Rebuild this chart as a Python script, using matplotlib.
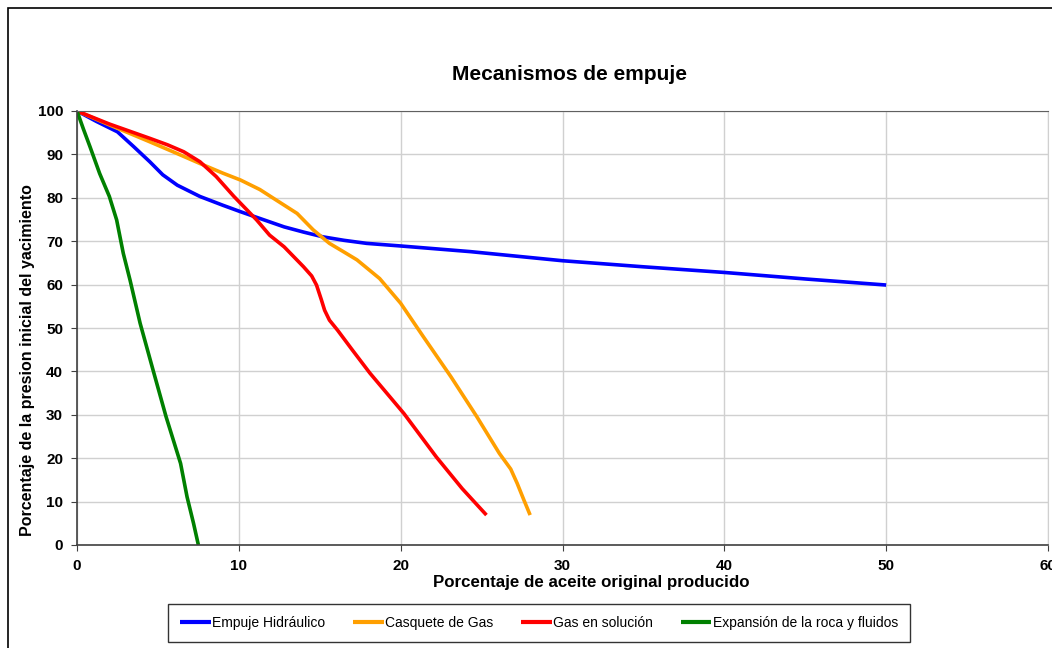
#Curvas de declinacion de presion por mecanismo de empuje.
import matplotlib.pyplot as plt
from matplotlib.patches import Rectangle

plt.rcParams['font.family'] = ['Liberation Sans', 'DejaVu Sans']

#Datos (porcentaje producido, porcentaje de presion).
hidraulico_x = [0, 1.2, 2.5, 3.5, 4.5, 5.3, 6.2, 7.6, 9.0, 10.1, 11.1, 12.8, 14.0, 15.2, 16.5, 17.9, 20.0, 24.3, 30.0, 35.0, 40.0, 45.0, 50.0]
hidraulico_y = [100, 97.6, 95.2, 91.8, 88.3, 85.3, 82.9, 80.3, 78.3, 76.8, 75.5, 73.3, 72.1, 71.0, 70.2, 69.5, 68.9, 67.6, 65.5, 64.1, 62.8, 61.3, 59.9]

casquete_x = [0, 2.0, 4.5, 6.0, 7.6, 9.0, 10.1, 11.3, 12.3, 13.6, 14.6, 15.6, 16.5, 17.3, 18.7, 20.0, 21.4, 23.1, 24.7, 26.1, 26.8, 27.2, 27.6, 28.0]
casquete_y = [100, 96.8, 92.9, 90.5, 87.9, 85.7, 84.1, 81.9, 79.5, 76.4, 72.6, 69.5, 67.5, 65.7, 61.4, 55.7, 48.0, 38.8, 29.6, 21.1, 17.5, 14.2, 10.5, 6.9]

solucion_x = [0, 2.0, 4.5, 5.6, 6.6, 7.6, 8.6, 9.7, 11.1, 11.9, 12.8, 14.0, 14.5, 14.8, 15.1, 15.3, 15.6, 16.1, 17.0, 18.1, 20.2, 22.2, 23.8, 25.3]
solucion_y = [100, 97.0, 93.7, 92.2, 90.6, 88.3, 84.9, 80.3, 74.9, 71.4, 68.7, 64.1, 62.0, 59.9, 56.5, 54.1, 51.8, 49.5, 45.0, 39.6, 30.3, 20.3, 13.0, 6.9]

expansion_x = [0, 0.4, 0.8, 1.4, 2.0, 2.45, 2.86, 3.28, 3.9, 4.7, 5.5, 6.4, 6.8, 7.2, 7.5]
expansion_y = [100, 95.8, 91.8, 85.6, 80.3, 74.9, 67.2, 61.0, 51.1, 40.3, 29.6, 18.8, 11.1, 5.0, 0]

etiquetas = ['Empuje Hidráulico', 'Casquete de Gas', 'Gas en solución', 'Expansión de la roca y fluidos']
colores = ['#0000FF', '#FF9F00', '#FF0000', '#008000']

fig = plt.figure(figsize=(10.52, 6.48), dpi=100)
ax = fig.add_axes([77/1052, 1 - 545/648, (1048-77)/1052, (545-111)/648])

#Marco exterior del grafico.
fig.patches.append(Rectangle((8/1052, -0.1), 1.2, 1 - 8/648 + 0.1, transform=fig.transFigure,
                             fill=False, edgecolor='black', linewidth=1.2))

series = [(hidraulico_x, hidraulico_y), (casquete_x, casquete_y),
          (solucion_x, solucion_y), (expansion_x, expansion_y)]
for (xs, ys), etiqueta, color in zip(series, etiquetas, colores):
	ax.plot(xs, ys, color=color, linewidth=2.6, label=etiqueta,
	        solid_capstyle='butt', solid_joinstyle='round')

ax.set_xlim(0, 60)
ax.set_ylim(0, 100)
ax.set_xticks(range(0, 61, 10))
ax.set_yticks(range(0, 101, 10))
ax.grid(True, color='#d0d0d0', linewidth=1)
ax.set_axisbelow(True)
for lado in ['left', 'bottom']:
	ax.spines[lado].set_color('#404040')
	ax.spines[lado].set_linewidth(1.2)
ax.spines['top'].set_color('#606060')
ax.spines['right'].set_color('#d0d0d0')
ax.tick_params(axis='both', length=4, color='#404040', labelsize=11, pad=6)
for t in ax.get_xticklabels() + ax.get_yticklabels():
	t.set_fontweight('bold')

ax.set_xlabel('Porcentaje de aceite original producido', fontsize=12.2, fontweight='bold')
ax.xaxis.set_label_coords(0.530, -0.070)
ax.set_ylabel('Porcentaje de la presion inicial del yacimiento', fontsize=11.5, fontweight='bold')
ax.yaxis.set_label_coords(-0.043, 0.426)

fig.text(570/1052, 1 - 75/648, 'Mecanismos de empuje', ha='center', va='center',
         fontsize=15, fontweight='bold')

leg = ax.legend(loc='center', bbox_to_anchor=(539/1052, 1 - 623/648), bbox_transform=fig.transFigure,
                ncol=4, fancybox=False, edgecolor='black', handlelength=2.2,
                handletextpad=0.1, columnspacing=2.0, borderpad=0.85, borderaxespad=0,
                prop={'size': 10})
leg.get_frame().set_linewidth(1.0)
for linea in leg.get_lines():
	linea.set_linewidth(3.0)

fig.savefig('out.png', dpi=100)
